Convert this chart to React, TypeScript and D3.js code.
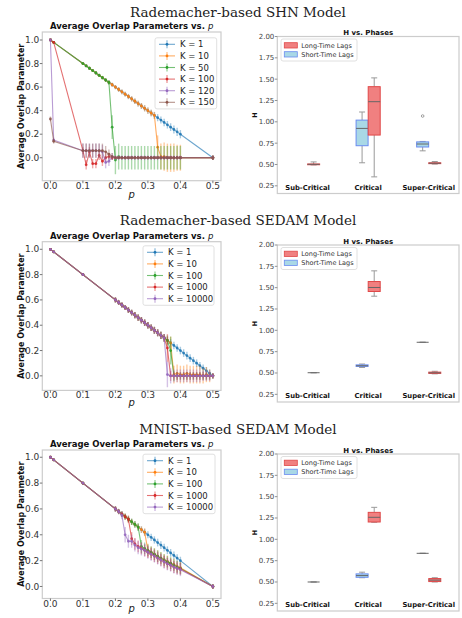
import React from "react";
import * as d3 from "d3";

const SANS = "DejaVu Sans, sans-serif";
const SERIF = "DejaVu Serif, serif";

// matplotlib tab10 colours, in legend order
const kColors = ["#1f77b4", "#ff7f0e", "#2ca02c", "#d62728", "#9467bd", "#8c564b"];
const pTicks = [0, 0.1, 0.2, 0.3, 0.4, 0.5];
const qTicks = [0, 0.2, 0.4, 0.6, 0.8, 1.0];

// ---------- Rademacher-based SHN ----------
const shnP = [0, 0.01, 0.10, 0.11, 0.12, 0.13, 0.14, 0.15, 0.16, 0.17, 0.18, 0.19, 0.20, 0.21, 0.22, 0.23, 0.24, 0.25, 0.26, 0.27, 0.28, 0.29, 0.30, 0.31, 0.32, 0.33, 0.34, 0.35, 0.36, 0.37, 0.38, 0.39, 0.40, 0.50];
const shnLabels = ["K = 1", "K = 10", "K = 50", "K = 100", "K = 120", "K = 150"];
const shnK1 = [1.00, 0.98, 0.80, 0.78, 0.76, 0.74, 0.72, 0.70, 0.68, 0.66, 0.64, 0.62, 0.60, 0.58, 0.56, 0.54, 0.52, 0.50, 0.48, 0.46, 0.44, 0.42, 0.40, 0.38, 0.36, 0.34, 0.32, 0.30, 0.28, 0.26, 0.24, 0.22, 0.20, 0.00];
const shnK1e = [0.005, 0.005, 0.01, 0.01, 0.012, 0.012, 0.014, 0.014, 0.015, 0.016, 0.016, 0.018, 0.018, 0.02, 0.02, 0.02, 0.022, 0.022, 0.024, 0.024, 0.025, 0.026, 0.027, 0.028, 0.028, 0.03, 0.03, 0.032, 0.032, 0.033, 0.034, 0.035, 0.035, 0.02];
const shnK10 = [1.00, 0.98, 0.80, 0.78, 0.76, 0.74, 0.72, 0.70, 0.68, 0.66, 0.64, 0.62, 0.60, 0.58, 0.56, 0.54, 0.52, 0.50, 0.48, 0.46, 0.44, 0.42, 0.40, 0.38, 0.36, 0.09, 0.01, 0.01, 0.00, 0.00, 0.00, 0.00, 0.00, 0.00];
const shnK10e = [0.005, 0.005, 0.01, 0.01, 0.012, 0.012, 0.014, 0.014, 0.015, 0.016, 0.016, 0.018, 0.018, 0.02, 0.02, 0.02, 0.022, 0.022, 0.024, 0.024, 0.025, 0.026, 0.027, 0.028, 0.03, 0.10, 0.11, 0.12, 0.12, 0.12, 0.12, 0.11, 0.11, 0.02];
const shnK50 = [1.00, 0.98, 0.80, 0.78, 0.76, 0.74, 0.72, 0.70, 0.68, 0.66, 0.64, 0.26, -0.02, 0.01, 0.00, 0.00, 0.00, 0.00, 0.00, 0.00, 0.00, 0.00, 0.00, 0.00, 0.00, 0.00, 0.00, 0.00, 0.00, 0.00, 0.00, 0.00, 0.00, 0.00];
const shnK50e = [0.005, 0.005, 0.01, 0.01, 0.012, 0.012, 0.014, 0.014, 0.015, 0.016, 0.02, 0.10, 0.12, 0.11, 0.10, 0.10, 0.10, 0.10, 0.10, 0.10, 0.10, 0.10, 0.10, 0.10, 0.10, 0.10, 0.10, 0.10, 0.10, 0.10, 0.10, 0.10, 0.10, 0.02];
const shnK100 = [1.00, 0.98, 0.06, -0.06, 0.05, -0.05, -0.05, 0.02, -0.03, 0.00, 0.01, 0.00, 0.00, 0.00, 0.00, 0.00, 0.00, 0.00, 0.00, 0.00, 0.00, 0.00, 0.00, 0.00, 0.00, 0.00, 0.00, 0.00, 0.00, 0.00, 0.00, 0.00, 0.00, 0.00];
const shnK100e = [0.005, 0.01, 0.03, 0.04, 0.04, 0.04, 0.04, 0.04, 0.04, 0.04, 0.03, 0.02, 0.01, 0.01, 0.01, 0.01, 0.01, 0.01, 0.01, 0.01, 0.01, 0.01, 0.01, 0.01, 0.01, 0.01, 0.01, 0.01, 0.01, 0.01, 0.01, 0.01, 0.01, 0.02];
const shnK120 = [1.00, 0.15, 0.06, 0.06, 0.06, 0.06, 0.06, 0.06, 0.05, -0.04, -0.03, 0.01, 0.00, 0.00, 0.00, 0.00, 0.00, 0.00, 0.00, 0.00, 0.00, 0.00, 0.00, 0.00, 0.00, 0.00, 0.00, 0.00, 0.00, 0.00, 0.00, 0.00, 0.00, 0.00];
const shnK120e = [0.005, 0.02, 0.06, 0.06, 0.06, 0.06, 0.06, 0.06, 0.06, 0.05, 0.04, 0.03, 0.02, 0.02, 0.02, 0.02, 0.02, 0.02, 0.02, 0.02, 0.02, 0.02, 0.02, 0.02, 0.02, 0.02, 0.02, 0.02, 0.02, 0.02, 0.02, 0.02, 0.02, 0.02];
const shnK150 = [0.33, 0.14, 0.06, 0.06, 0.06, 0.06, 0.06, 0.06, 0.06, 0.05, 0.03, 0.01, 0.00, 0.00, 0.00, 0.00, 0.00, 0.00, 0.00, 0.00, 0.00, 0.00, 0.00, 0.00, 0.00, 0.00, 0.00, 0.00, 0.00, 0.00, 0.00, 0.00, 0.00, 0.00];
const shnK150e = [0.02, 0.02, 0.06, 0.06, 0.06, 0.06, 0.06, 0.06, 0.06, 0.05, 0.04, 0.03, 0.01, 0.01, 0.01, 0.01, 0.01, 0.01, 0.01, 0.01, 0.01, 0.01, 0.01, 0.01, 0.01, 0.01, 0.01, 0.01, 0.01, 0.01, 0.01, 0.01, 0.01, 0.02];

// ---------- Rademacher-based SEDAM ----------
const sedP = [0, 0.01, 0.10, 0.20, 0.21, 0.22, 0.23, 0.24, 0.25, 0.26, 0.27, 0.28, 0.29, 0.30, 0.31, 0.32, 0.33, 0.34, 0.35, 0.36, 0.37, 0.38, 0.39, 0.40, 0.41, 0.42, 0.43, 0.44, 0.45, 0.46, 0.47, 0.48, 0.49, 0.50];
const sedLabels = ["K = 1", "K = 10", "K = 100", "K = 1000", "K = 10000"];
const sedK1 = [1.00, 0.98, 0.80, 0.60, 0.58, 0.56, 0.54, 0.52, 0.50, 0.48, 0.46, 0.44, 0.42, 0.40, 0.38, 0.36, 0.34, 0.32, 0.30, 0.28, 0.26, 0.24, 0.22, 0.20, 0.18, 0.16, 0.14, 0.12, 0.10, 0.08, 0.06, 0.04, 0.02, 0.00];
const sedK1e = [0.005, 0.005, 0.01, 0.02, 0.02, 0.02, 0.02, 0.022, 0.022, 0.024, 0.024, 0.025, 0.025, 0.026, 0.026, 0.027, 0.027, 0.028, 0.028, 0.03, 0.03, 0.03, 0.03, 0.03, 0.03, 0.03, 0.03, 0.03, 0.03, 0.03, 0.03, 0.03, 0.03, 0.02];
const sedK10 = [1.00, 0.98, 0.80, 0.60, 0.58, 0.56, 0.54, 0.52, 0.50, 0.48, 0.46, 0.44, 0.42, 0.40, 0.38, 0.36, 0.34, 0.32, 0.30, 0.28, 0.26, 0.01, 0.02, 0.01, 0.01, 0.02, 0.01, 0.01, 0.01, 0.01, 0.00, 0.01, 0.00, 0.00];
const sedK10e = [0.005, 0.005, 0.01, 0.02, 0.02, 0.02, 0.02, 0.022, 0.022, 0.024, 0.024, 0.025, 0.025, 0.026, 0.026, 0.027, 0.027, 0.028, 0.028, 0.03, 0.05, 0.07, 0.07, 0.07, 0.07, 0.07, 0.07, 0.07, 0.07, 0.07, 0.06, 0.06, 0.05, 0.02];
const sedK100 = [1.00, 0.98, 0.80, 0.60, 0.58, 0.56, 0.54, 0.52, 0.50, 0.48, 0.46, 0.44, 0.42, 0.40, 0.38, 0.36, 0.34, 0.32, 0.30, 0.28, 0.20, 0.00, 0.00, 0.00, 0.00, 0.00, 0.00, 0.00, 0.00, 0.00, 0.00, 0.00, 0.00, 0.00];
const sedK100e = [0.005, 0.005, 0.01, 0.02, 0.02, 0.02, 0.02, 0.022, 0.022, 0.024, 0.024, 0.025, 0.025, 0.026, 0.026, 0.027, 0.027, 0.028, 0.028, 0.04, 0.11, 0.04, 0.03, 0.03, 0.03, 0.03, 0.03, 0.03, 0.03, 0.03, 0.03, 0.03, 0.03, 0.02];
const sedK1000 = [1.00, 0.98, 0.80, 0.60, 0.58, 0.56, 0.54, 0.52, 0.50, 0.48, 0.46, 0.44, 0.42, 0.40, 0.38, 0.36, 0.34, 0.32, 0.30, 0.22, 0.00, 0.00, 0.00, 0.00, 0.00, 0.00, 0.00, 0.00, 0.00, 0.00, 0.00, 0.00, 0.00, 0.00];
const sedK1000e = [0.005, 0.005, 0.01, 0.02, 0.02, 0.02, 0.02, 0.022, 0.022, 0.024, 0.024, 0.025, 0.025, 0.026, 0.026, 0.027, 0.027, 0.028, 0.03, 0.11, 0.04, 0.03, 0.03, 0.03, 0.03, 0.03, 0.03, 0.03, 0.03, 0.03, 0.03, 0.03, 0.03, 0.02];
const sedK10000 = [1.00, 0.98, 0.80, 0.60, 0.58, 0.56, 0.54, 0.52, 0.50, 0.48, 0.46, 0.44, 0.42, 0.40, 0.38, 0.36, 0.34, 0.32, 0.30, 0.01, 0.00, 0.00, 0.00, 0.00, 0.00, 0.00, 0.00, 0.00, 0.00, 0.00, 0.00, 0.00, 0.00, 0.00];
const sedK10000e = [0.005, 0.005, 0.01, 0.02, 0.02, 0.02, 0.02, 0.022, 0.022, 0.024, 0.024, 0.025, 0.025, 0.026, 0.026, 0.027, 0.027, 0.028, 0.03, 0.10, 0.06, 0.05, 0.05, 0.05, 0.05, 0.05, 0.05, 0.05, 0.05, 0.05, 0.04, 0.04, 0.04, 0.02];

// ---------- MNIST-based SEDAM ----------
const mnP = [0, 0.01, 0.10, 0.20, 0.21, 0.22, 0.23, 0.24, 0.25, 0.26, 0.27, 0.28, 0.29, 0.30, 0.31, 0.32, 0.33, 0.34, 0.35, 0.36, 0.37, 0.38, 0.39, 0.40, 0.50];
const mnLabels = ["K = 1", "K = 10", "K = 100", "K = 1000", "K = 10000"];
const mnK1 = [1.00, 0.98, 0.80, 0.60, 0.58, 0.56, 0.54, 0.52, 0.50, 0.48, 0.46, 0.44, 0.42, 0.40, 0.38, 0.36, 0.34, 0.32, 0.30, 0.28, 0.26, 0.24, 0.22, 0.20, 0.00];
const mnK1e = [0.005, 0.005, 0.01, 0.02, 0.02, 0.02, 0.022, 0.022, 0.024, 0.024, 0.025, 0.025, 0.026, 0.027, 0.028, 0.028, 0.03, 0.03, 0.03, 0.03, 0.03, 0.03, 0.03, 0.03, 0.02];
const mnK10 = [1.00, 0.98, 0.80, 0.60, 0.58, 0.56, 0.54, 0.52, 0.50, 0.48, 0.46, 0.44, 0.42, 0.28, 0.265, 0.25, 0.235, 0.22, 0.205, 0.195, 0.18, 0.17, 0.155, 0.145, 0.00];
const mnK10e = [0.005, 0.005, 0.01, 0.02, 0.02, 0.02, 0.022, 0.022, 0.024, 0.024, 0.025, 0.025, 0.03, 0.05, 0.045, 0.045, 0.045, 0.045, 0.045, 0.045, 0.045, 0.045, 0.045, 0.045, 0.02];
const mnK100 = [1.00, 0.98, 0.80, 0.60, 0.58, 0.56, 0.54, 0.52, 0.50, 0.48, 0.46, 0.31, 0.295, 0.28, 0.265, 0.25, 0.235, 0.22, 0.205, 0.19, 0.18, 0.165, 0.15, 0.14, 0.00];
const mnK100e = [0.005, 0.005, 0.01, 0.02, 0.02, 0.02, 0.022, 0.022, 0.024, 0.024, 0.03, 0.05, 0.045, 0.045, 0.045, 0.045, 0.045, 0.045, 0.045, 0.045, 0.045, 0.045, 0.045, 0.045, 0.02];
const mnK1000 = [1.00, 0.98, 0.80, 0.60, 0.58, 0.56, 0.54, 0.52, 0.37, 0.33, 0.31, 0.295, 0.28, 0.265, 0.25, 0.235, 0.22, 0.205, 0.19, 0.175, 0.165, 0.15, 0.14, 0.135, 0.00];
const mnK1000e = [0.005, 0.005, 0.01, 0.02, 0.02, 0.02, 0.022, 0.03, 0.05, 0.045, 0.045, 0.045, 0.045, 0.045, 0.045, 0.045, 0.045, 0.045, 0.045, 0.045, 0.045, 0.045, 0.045, 0.045, 0.02];
const mnK10000 = [1.00, 0.98, 0.80, 0.60, 0.58, 0.55, 0.40, 0.35, 0.35, 0.32, 0.30, 0.29, 0.28, 0.265, 0.25, 0.235, 0.22, 0.205, 0.19, 0.175, 0.165, 0.15, 0.14, 0.13, 0.00];
const mnK10000e = [0.005, 0.005, 0.01, 0.02, 0.02, 0.03, 0.06, 0.05, 0.05, 0.05, 0.05, 0.05, 0.05, 0.05, 0.05, 0.05, 0.05, 0.05, 0.05, 0.05, 0.05, 0.05, 0.05, 0.05, 0.02];

// ---------- H vs. Phases boxplots: [low whisker, q1, median, q3, high whisker] ----------
const phases = ["Sub-Critical", "Critical", "Super-Critical"];
const hTicks = [0.25, 0.5, 0.75, 1.0, 1.25, 1.5, 1.75, 2.0];
const shnLongH = [[0.495, 0.497, 0.502, 0.506, 0.53], [0.355, 0.845, 1.236, 1.412, 1.515], [0.505, 0.51, 0.515, 0.52, 0.535]];
const shnShortH = [null, [0.52, 0.72, 0.923, 1.02, 1.115], [0.66, 0.705, 0.74, 0.765, 0.77]];
const shnShortOut = [[], [], [1.068]];
const sedLongH = [[0.503, 0.503, 0.503, 0.503, 0.503], [1.40, 1.455, 1.502, 1.572, 1.697], [0.49, 0.495, 0.502, 0.51, 0.52]];
const sedShortH = [null, [0.565, 0.577, 0.585, 0.595, 0.605], [0.86, 0.86, 0.86, 0.86, 0.86]];
const mnLongH = [[0.50, 0.50, 0.50, 0.50, 0.50], [1.20, 1.203, 1.258, 1.316, 1.375], [0.50, 0.505, 0.522, 0.54, 0.55]];
const mnShortH = [null, [0.55, 0.555, 0.575, 0.595, 0.615], [0.836, 0.836, 0.836, 0.836, 0.836]];

const longFill = "#f08080";
const longEdge = "#e04848";
const shortFill = "#a9d8e6";
const shortEdge = "#6a8cf0";

function OverlapPanel({ p, labels, values, errs, top, bottom, yDomain, legendX, legendW, legendY, pBase }) {
  const left = 42.3;
  const right = 221;
  const x = d3.scaleLinear().domain([-0.025, 0.525]).range([left, right]);
  const y = d3.scaleLinear().domain(yDomain).range([bottom, top]);
  const line = d3.line<number>().x((_, i) => x(p[i])).y((d) => y(d));
  const cx = (left + right) / 2;
  return (
    <g>
      <text x={cx} y={top - 3} textAnchor="middle" fontFamily={SANS} fontSize={8.5} fontWeight="bold" fill="#111">
        Average Overlap Parameters vs. <tspan fontStyle="italic" fontWeight="normal">p</tspan>
      </text>
      <rect x={left} y={top} width={right - left} height={bottom - top} fill="white" stroke="#cccccc" strokeWidth={1.2} />
      {qTicks.map((t) => (
        <g key={"y" + t}>
          <line x1={left - 2.5} x2={left} y1={y(t)} y2={y(t)} stroke="#555" strokeWidth={0.8} />
          <text x={left - 3} y={y(t) + 3.2} textAnchor="end" fontFamily={SANS} fontSize={9} fill="#333">{t.toFixed(1)}</text>
        </g>
      ))}
      {pTicks.map((t) => (
        <g key={"x" + t}>
          <line x1={x(t)} x2={x(t)} y1={bottom} y2={bottom + 2.5} stroke="#555" strokeWidth={0.8} />
          <text x={x(t)} y={bottom + 8} textAnchor="middle" fontFamily={SANS} fontSize={9} fill="#333">{t.toFixed(1)}</text>
        </g>
      ))}
      <text x={cx} y={pBase} textAnchor="middle" fontFamily={SANS} fontSize={10} fontStyle="italic" fill="#222">p</text>
      <text transform={`translate(${23.5},${(top + bottom) / 2}) rotate(-90)`} textAnchor="middle" fontFamily={SANS} fontSize={8} fontWeight="bold" fill="#111">
        Average Overlap Parameter
      </text>
      {values.map((vals, s) => (
        <g key={"s" + s} stroke={kColors[s]} fill={kColors[s]}>
          {vals.map((v, i) => (
            <line key={i} x1={x(p[i])} x2={x(p[i])} y1={y(v - errs[s][i])} y2={y(v + errs[s][i])} strokeWidth={1.4} strokeOpacity={0.4} />
          ))}
          <path d={line(vals) || ""} fill="none" strokeWidth={1.1} strokeOpacity={0.65} />
          {vals.map((v, i) => (
            <circle key={"m" + i} cx={x(p[i])} cy={y(v)} r={1.4} stroke="none" fillOpacity={0.85} />
          ))}
        </g>
      ))}
      <rect x={legendX} y={legendY - 6.5} width={legendW} height={labels.length * 11.6 + 1.5} rx={2} fill="white" fillOpacity={0.85} stroke="#d8d8d8" strokeWidth={0.8} />
      {labels.map((lab, i) => {
        const cy = legendY + i * 11.6;
        const hx = legendX + 4;
        return (
          <g key={lab} stroke={kColors[i]}>
            <line x1={hx} x2={hx + 16} y1={cy} y2={cy} strokeWidth={1.1} strokeOpacity={0.65} />
            <line x1={hx + 8} x2={hx + 8} y1={cy - 4} y2={cy + 4} strokeWidth={1.4} strokeOpacity={0.45} />
            <circle cx={hx + 8} cy={cy} r={1.4} fill={kColors[i]} stroke="none" />
            <text x={hx + 21} y={cy + 3} stroke="none" fontFamily={SANS} fontSize={8.5} fill="#222">{lab}</text>
          </g>
        );
      })}
    </g>
  );
}

function Box({ x, y, s, pos, fill, edge }) {
  const w = 12;
  const cx = x(pos);
  const [lo, q1, med, q3, hi] = s;
  return (
    <g>
      <line x1={cx} x2={cx} y1={y(q1)} y2={y(lo)} stroke="#999" strokeWidth={1} />
      <line x1={cx} x2={cx} y1={y(q3)} y2={y(hi)} stroke="#999" strokeWidth={1} />
      <line x1={cx - w / 4} x2={cx + w / 4} y1={y(lo)} y2={y(lo)} stroke="#999" strokeWidth={1} />
      <line x1={cx - w / 4} x2={cx + w / 4} y1={y(hi)} y2={y(hi)} stroke="#999" strokeWidth={1} />
      <rect x={cx - w / 2} y={y(q3)} width={w} height={Math.max(y(q1) - y(q3), 0)} fill={fill} stroke={edge} strokeWidth={1} />
      <line x1={cx - w / 2} x2={cx + w / 2} y1={y(med)} y2={y(med)} stroke="#666" strokeWidth={1} />
    </g>
  );
}

function HPanel({ top, longH, shortH, shortOut }) {
  const left = 277.3;
  const right = 459;
  const bottom = top + 157;
  const x = d3.scaleLinear().domain([0.5, 3.5]).range([left, right]);
  const y = d3.scaleLinear().domain([0.16, 2.0]).range([bottom, top]);
  const cx = (left + right) / 2;
  return (
    <g>
      <text x={cx} y={top - 1.5} textAnchor="middle" fontFamily={SANS} fontSize={7} fontWeight="bold" fill="#111">H vs. Phases</text>
      <rect x={left} y={top} width={right - left} height={bottom - top} fill="white" stroke="#cccccc" strokeWidth={1.2} />
      {hTicks.map((t) => (
        <g key={t}>
          <line x1={left - 2.5} x2={left} y1={y(t)} y2={y(t)} stroke="#666" strokeWidth={0.7} />
          <text x={left - 3} y={y(t) + 2.4} textAnchor="end" fontFamily={SANS} fontSize={7} fill="#444">{t.toFixed(2)}</text>
        </g>
      ))}
      <text transform={`translate(${257},${(top + bottom) / 2}) rotate(-90)`} textAnchor="middle" fontFamily={SANS} fontSize={6.5} fontWeight="bold" fill="#111">H</text>
      {phases.map((ph, i) => (
        <text key={ph} x={x(i + 1)} y={bottom - 3.8} textAnchor="middle" fontFamily={SANS} fontSize={6.8} fontWeight="bold" fill="#111">{ph}</text>
      ))}
      {shortH.map((s, i) => s && <Box key={"s" + i} x={x} y={y} s={s} pos={i + 1 - 0.1} fill={shortFill} edge={shortEdge} />)}
      {shortOut.map((o, i) => o.map((v, j) => (
        <circle key={"o" + i + j} cx={x(i + 1 - 0.1)} cy={y(v)} r={1.3} fill="none" stroke="#888" strokeWidth={0.8} />
      )))}
      {longH.map((s, i) => s && <Box key={"l" + i} x={x} y={y} s={s} pos={i + 1 + 0.1} fill={longFill} edge={longEdge} />)}
      <rect x={left + 3.7} y={top + 2.5} width={76} height={22} rx={2} fill="white" fillOpacity={0.85} stroke="#d8d8d8" strokeWidth={0.8} />
      <rect x={left + 7} y={top + 6.2} width={13} height={5.3} fill={longFill} stroke={longEdge} strokeWidth={0.8} />
      <text x={left + 24} y={top + 11.2} fontFamily={SANS} fontSize={6.5} fill="#333">Long-Time Lags</text>
      <rect x={left + 7} y={top + 15.2} width={13} height={5.3} fill={shortFill} stroke={shortEdge} strokeWidth={0.8} />
      <text x={left + 24} y={top + 20.2} fontFamily={SANS} fontSize={6.5} fill="#333">Short-Time Lags</text>
    </g>
  );
}

export default function App() {
  return (
    <svg width={462} height={618} style={{ position: "absolute", left: 0, top: 0, background: "white" }}>
      <rect width={462} height={618} fill="white" />
      <text x={238} y={16.5} textAnchor="middle" fontFamily={SERIF} fontSize={13.5} fill="#222">Rademacher-based SHN Model</text>
      <text x={238} y={225} textAnchor="middle" fontFamily={SERIF} fontSize={13.5} fill="#222">Rademacher-based SEDAM Model</text>
      <text x={238} y={434} textAnchor="middle" fontFamily={SERIF} fontSize={13.5} fill="#222">MNIST-based SEDAM Model</text>

      <OverlapPanel p={shnP} labels={shnLabels}
        values={[shnK1, shnK10, shnK50, shnK100, shnK120, shnK150]}
        errs={[shnK1e, shnK10e, shnK50e, shnK100e, shnK120e, shnK150e]}
        top={32} bottom={180.7} yDomain={[-0.195, 1.068]}
        legendX={155} legendW={61.7} legendY={44.3} pBase={197.5} />
      <OverlapPanel p={sedP} labels={sedLabels}
        values={[sedK1, sedK10, sedK100, sedK1000, sedK10000]}
        errs={[sedK1e, sedK10e, sedK100e, sedK1000e, sedK10000e]}
        top={241.7} bottom={390.4} yDomain={[-0.115, 1.06]}
        legendX={143} legendW={71} legendY={252.3} pBase={406} />
      <OverlapPanel p={mnP} labels={mnLabels}
        values={[mnK1, mnK10, mnK100, mnK1000, mnK10000]}
        errs={[mnK1e, mnK10e, mnK100e, mnK1000e, mnK10000e]}
        top={450} bottom={598.5} yDomain={[-0.093, 1.056]}
        legendX={143} legendW={72} legendY={460.7} pBase={612} />

      <HPanel top={36.5} longH={shnLongH} shortH={shnShortH} shortOut={shnShortOut} />
      <HPanel top={245} longH={sedLongH} shortH={sedShortH} shortOut={[[], [], []]} />
      <HPanel top={454} longH={mnLongH} shortH={mnShortH} shortOut={[[], [], []]} />
    </svg>
  );
}
